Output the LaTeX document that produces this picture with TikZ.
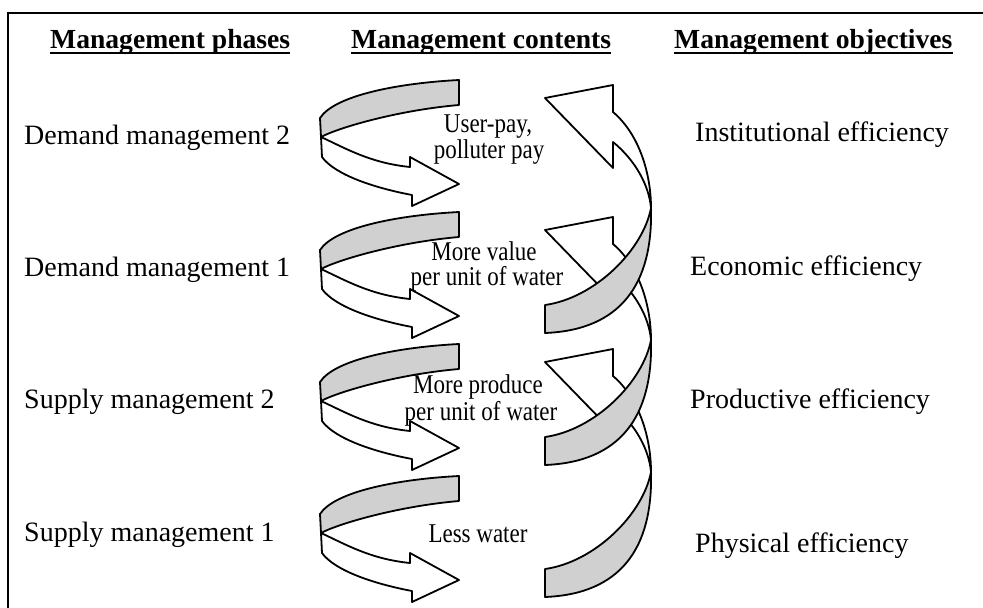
\documentclass[tikz,border=0pt]{standalone}
\usepackage{graphicx}
\usepackage{fontspec}
\setmainfont{Liberation Serif}
\definecolor{ribbongray}{RGB}{208,208,208}
\newcommand{\tallmid}[1]{\scalebox{1}[1.18]{#1}}
\begin{document}
\begin{tikzpicture}[x=1pt,y=-1pt,
  rib/.style={draw=black,line width=1.8pt,line join=round},
  back/.style={rib,fill=ribbongray},
  front/.style={rib,fill=white},
  head/.style={inner sep=0pt,anchor=base west,font=\fontsize{27.6}{30}\selectfont\bfseries},
  lab/.style={inner sep=0pt,anchor=base west,font=\fontsize{28}{30}\selectfont},
  mid/.style={inner sep=0pt,anchor=base,font=\fontsize{23}{26}\selectfont},
  uline/.style={line width=2.6pt}]
\useasboundingbox (0,0) rectangle (983,608);
\draw[line width=2pt] (983,13) -- (8,13) -- (8,608);

% headers
\node[head] (h1) at (50,48) {Management phases};
\node[head] (h2) at (351,48) {Management contents};
\node[head] (h3) at (674,48) {Management objectives};
\foreach \h in {h1,h2,h3}
  \draw[uline] ([yshift=-5pt]\h.base west) -- ([yshift=-5pt]\h.base east);

% left ribbons
\foreach \dy in {0,132,264,396}{
  \path[front] (321,137+\dy) -- (322,157+\dy)
    .. controls (335,175+\dy) and (375,188+\dy) .. (412,195+\dy)
    -- (412,206+\dy) -- (459,184+\dy) -- (410,157+\dy) -- (410,167+\dy)
    .. controls (370,163+\dy) and (345,148+\dy) .. (321,137+\dy) -- cycle;
  \path[back] (459,80+\dy) .. controls (400,83+\dy) and (335,95+\dy) .. (320,118+\dy)
    -- (321,137+\dy) .. controls (340,127+\dy) and (400,110+\dy) .. (459,105+\dy) -- cycle;
}

% right spiral (drawn bottom to top)
\foreach \dy in {264,132,0}{
  \path[front] (545,98+\dy) -- (613,85+\dy) -- (613,112+\dy)
    .. controls (640,135+\dy) and (651,175+\dy) .. (651,208+\dy)
    .. controls (649,185+\dy) and (635,160+\dy) .. (613,142+\dy)
    -- (613,168+\dy) -- cycle;
  \path[back] (651,208+\dy) .. controls (653,285+\dy) and (620,330+\dy) .. (545,333+\dy)
    -- (545,305+\dy) .. controls (595,298+\dy) and (643,250+\dy) .. (651,208+\dy) -- cycle;
}

% phases
\node[lab] (p4) at (24,144) {Demand management 2};
\node[lab] (p3) at (24,276) {Demand management 1};
\node[lab] (p2) at (24,408) {Supply management 2};
\node[lab] (p1) at (24,541) {Supply management 1};

% contents
\node[mid] (c4a) at (488,132) {\tallmid{User-pay,}};
\node[mid] (c4b) at (489,158) {\tallmid{polluter pay}};
\node[mid] (c3a) at (484,260) {\tallmid{More value}};
\node[mid] (c3b) at (487,285) {\tallmid{per unit of water}};
\node[mid] (c2a) at (478,393) {\tallmid{More produce}};
\node[mid] (c2b) at (481,420) {\tallmid{per unit of water}};
\node[mid] (c1a) at (478,542) {\tallmid{Less water}};

% objectives
\node[lab] (o4) at (695,141) {Institutional efficiency};
\node[lab] (o3) at (690,275) {Economic efficiency};
\node[lab] (o2) at (690,408) {Productive efficiency};
\node[lab] (o1) at (695,552) {Physical efficiency};
\end{tikzpicture}
\end{document}
